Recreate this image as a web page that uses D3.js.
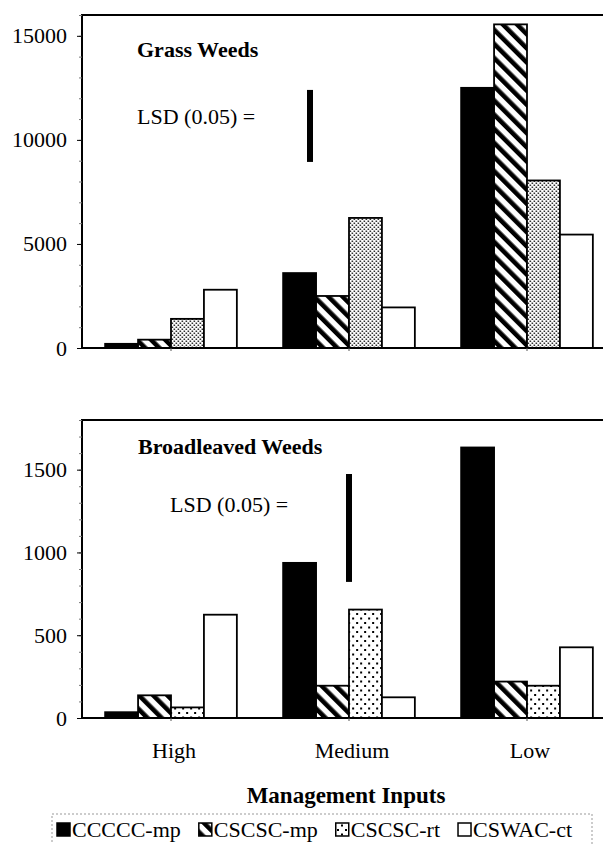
<!DOCTYPE html>
<html>
<head>
<meta charset="utf-8">
<script src="https://cdn.jsdelivr.net/npm/d3@7"></script>
<style>
    body { margin: 0; background: #fff; }
    svg text { font-family: "Liberation Serif", "Times New Roman", Times, serif; fill: #000; }
</style>
</head>
<body>
<div id="chart"></div>
<script>
// categories and series
const categories = ["High", "Medium", "Low"];
const systems = ["CCCCC-mp", "CSCSC-mp", "CSCSC-rt", "CSWAC-ct"];

// grass weeds (top panel)
const grassCCCCCmp = [200, 3600, 12500];
const grassCSCSCmp = [400, 2500, 15550];
const grassCSCSCrt = [1400, 6250, 8050];
const grassCSWACct = [2800, 1950, 5450];
const grassTicks = [0, 5000, 10000, 15000];
const grassLsd = 3460;
const grassLsdFrom = 8940;

// broadleaved weeds (bottom panel)
const broadCCCCCmp = [35, 937, 1634];
const broadCSCSCmp = [137, 195, 220];
const broadCSCSCrt = [64, 655, 195];
const broadCSWACct = [624, 125, 427];
const broadTicks = [0, 500, 1000, 1500];
const broadLsd = 652;
const broadLsdFrom = 822;

const width = 603, height = 844;
const fontSize = "22px";

const svg = d3.select("#chart").append("svg")
    .attr("width", width)
    .attr("height", height);

const defs = svg.append("defs");

// diagonal hatch
defs.append("pattern")
    .attr("id", "hatch")
    .attr("patternUnits", "userSpaceOnUse")
    .attr("width", 10).attr("height", 10)
    .attr("patternTransform", "rotate(-45)")
    .call(p => {
        p.append("rect").attr("width", 10).attr("height", 10).attr("fill", "#fff");
        p.append("rect").attr("width", 4.6).attr("height", 10).attr("fill", "#000");
    });

// dense dots (top panel)
defs.append("pattern")
    .attr("id", "dotsDense")
    .attr("patternUnits", "userSpaceOnUse")
    .attr("width", 4).attr("height", 4)
    .call(p => {
        p.append("rect").attr("width", 4).attr("height", 4).attr("fill", "#fff");
        p.append("rect").attr("x", 0.5).attr("y", 0.5).attr("width", 1.5).attr("height", 1.5).attr("fill", "#222");
        p.append("rect").attr("x", 2.5).attr("y", 2.5).attr("width", 1.5).attr("height", 1.5).attr("fill", "#222");
    });

// sparse dots (bottom panel, legend)
defs.append("pattern")
    .attr("id", "dotsSparse")
    .attr("patternUnits", "userSpaceOnUse")
    .attr("width", 8).attr("height", 9)
    .call(p => {
        p.append("rect").attr("width", 8).attr("height", 9).attr("fill", "#fff");
        p.append("rect").attr("x", 1).attr("y", 1).attr("width", 2).attr("height", 2).attr("fill", "#000");
        p.append("rect").attr("x", 5).attr("y", 5.5).attr("width", 2).attr("height", 2).attr("fill", "#000");
    });

const x = d3.scaleBand()
    .domain(categories)
    .range([82, 616])
    .paddingInner(0.26)
    .paddingOuter(0.13);

const xs = d3.scaleBand()
    .domain(systems)
    .range([0, x.bandwidth()]);

function drawPanel(cfg) {
    const g = svg.append("g");

    const y = d3.scaleLinear()
        .domain([0, cfg.max])
        .range([cfg.bottom, cfg.top]);

    const fills = ["#000", "url(#hatch)", cfg.dots, "#fff"];

    // bars
    const rows = categories.map((c, i) => ({
        cat: c,
        vals: systems.map((s, j) => ({sys: s, v: cfg.series[j][i], fill: fills[j]}))
    }));

    g.selectAll("g.grp")
        .data(rows)
        .enter().append("g")
        .attr("class", "grp")
        .attr("transform", d => `translate(${x(d.cat)},0)`)
        .selectAll("rect")
        .data(d => d.vals)
        .enter().append("rect")
        .attr("x", d => xs(d.sys))
        .attr("y", d => y(d.v))
        .attr("width", xs.bandwidth())
        .attr("height", d => y(0) - y(d.v))
        .attr("fill", d => d.fill)
        .attr("stroke", "#000")
        .attr("stroke-width", 1.8);

    // frame
    g.append("rect")
        .attr("x", x.range()[0])
        .attr("y", cfg.top)
        .attr("width", 700)
        .attr("height", cfg.bottom - cfg.top)
        .attr("fill", "none")
        .attr("stroke", "#000")
        .attr("stroke-width", 2);

    // minor ticks
    g.append("g")
        .attr("transform", `translate(${x.range()[0]},0)`)
        .call(d3.axisLeft(y).tickValues(d3.range(0, cfg.max + 1, cfg.minor)).tickSize(3).tickFormat(""))
        .call(a => a.select(".domain").remove())
        .call(a => a.selectAll("line").attr("stroke", "#777"));

    // major ticks + labels
    g.append("g")
        .attr("transform", `translate(${x.range()[0]},0)`)
        .call(d3.axisLeft(y).tickValues(cfg.ticks).tickSize(5).tickPadding(10).tickFormat(d3.format("d")))
        .call(a => a.select(".domain").remove())
        .call(a => a.selectAll("text")
            .style("font-size", fontSize)
            .attr("fill", "#000"));

    // category ticks under the baseline
    g.selectAll("line.ctick")
        .data(categories)
        .enter().append("line")
        .attr("x1", d => x(d) + x.bandwidth() / 2)
        .attr("x2", d => x(d) + x.bandwidth() / 2)
        .attr("y1", cfg.bottom)
        .attr("y2", cfg.bottom + 3)
        .attr("stroke", "#555");

    // title and LSD
    g.append("text")
        .attr("x", cfg.titleX).attr("y", cfg.titleY)
        .style("font-size", fontSize)
        .style("font-weight", "bold")
        .text(cfg.title);

    g.append("text")
        .attr("x", cfg.lsdTextX).attr("y", cfg.lsdTextY)
        .style("font-size", fontSize)
        .text("LSD (0.05) =");

    g.append("line")
        .attr("x1", cfg.lsdX).attr("x2", cfg.lsdX)
        .attr("y1", y(cfg.lsdFrom))
        .attr("y2", y(cfg.lsdFrom + cfg.lsd))
        .attr("stroke", "#000")
        .attr("stroke-width", 6);
}

drawPanel({
    top: 15, bottom: 348, max: 16000, minor: 1000,
    ticks: grassTicks,
    series: [grassCCCCCmp, grassCSCSCmp, grassCSCSCrt, grassCSWACct],
    dots: "url(#dotsDense)",
    title: "Grass Weeds", titleX: 137, titleY: 57,
    lsdTextX: 137, lsdTextY: 124,
    lsd: grassLsd, lsdFrom: grassLsdFrom, lsdX: 310
});

drawPanel({
    top: 420, bottom: 718, max: 1800, minor: 100,
    ticks: broadTicks,
    series: [broadCCCCCmp, broadCSCSCmp, broadCSCSCrt, broadCSWACct],
    dots: "url(#dotsSparse)",
    title: "Broadleaved Weeds", titleX: 138, titleY: 454,
    lsdTextX: 170, lsdTextY: 512,
    lsd: broadLsd, lsdFrom: broadLsdFrom, lsdX: 349
});

// category labels
svg.append("g")
    .selectAll("text")
    .data(categories)
    .enter().append("text")
    .attr("x", d => x(d) + x.bandwidth() / 2 + 3)
    .attr("y", 758)
    .attr("text-anchor", "middle")
    .style("font-size", fontSize)
    .text(d => d);

svg.append("text")
    .attr("x", 346)
    .attr("y", 803)
    .attr("text-anchor", "middle")
    .style("font-size", "23px")
    .style("font-weight", "bold")
    .text("Management Inputs");

// legend
const legend = svg.append("g");
legend.append("rect")
    .attr("x", 52).attr("y", 814)
    .attr("width", 540).attr("height", 60)
    .attr("fill", "none")
    .attr("stroke", "#999")
    .attr("stroke-width", 1)
    .attr("stroke-dasharray", "2,2");

const legendFills = ["#000", "url(#hatch)", "url(#dotsSparse)", "#fff"];
let lx = 57;
systems.forEach((s, i) => {
    legend.append("rect")
        .attr("x", lx).attr("y", 823)
        .attr("width", 13).attr("height", 13)
        .attr("fill", legendFills[i])
        .attr("stroke", "#000")
        .attr("stroke-width", 1.5);
    const t = legend.append("text")
        .attr("x", lx + 15).attr("y", 837)
        .style("font-size", "22px")
        .text(s);
    lx += 15 + t.node().getComputedTextLength() + 18;
});
</script>
</body>
</html>
